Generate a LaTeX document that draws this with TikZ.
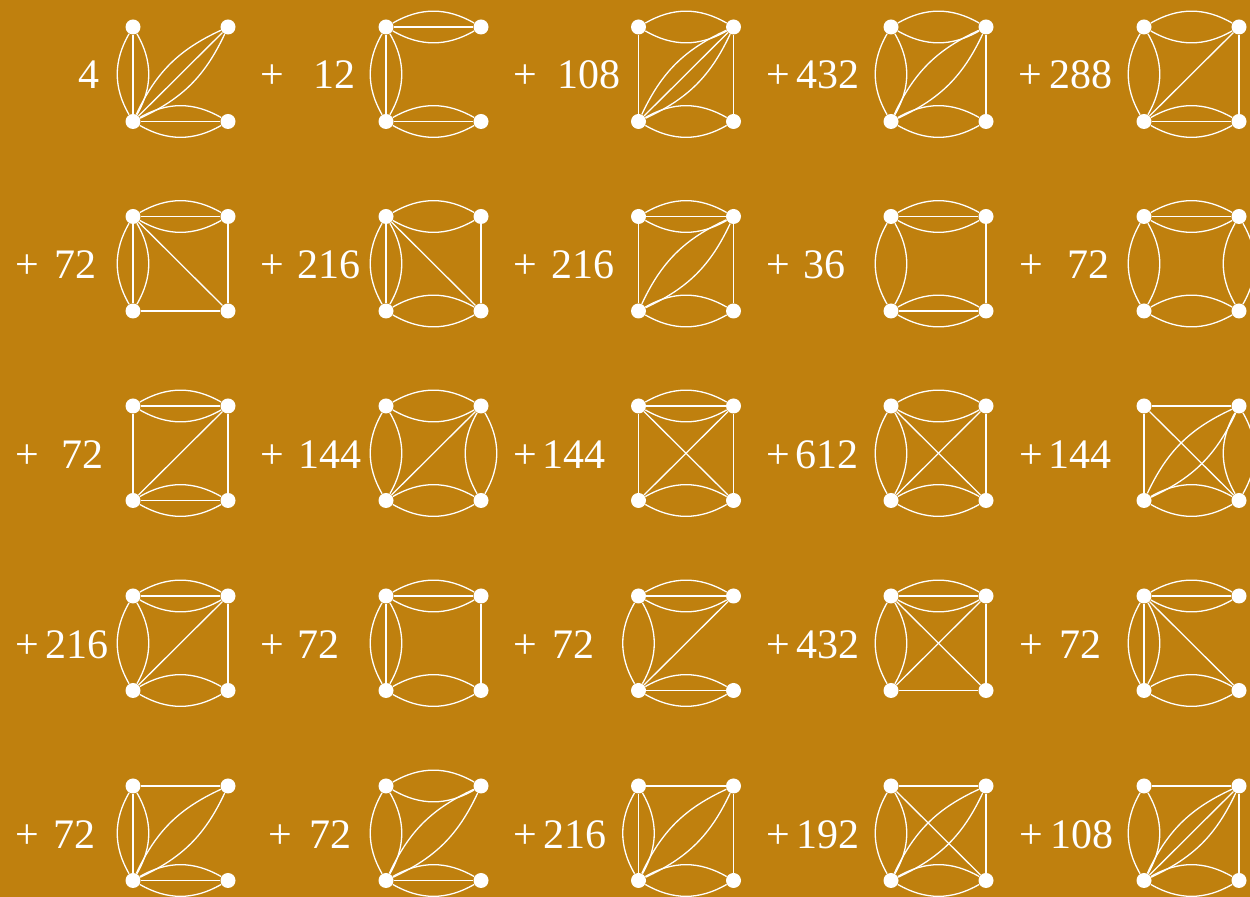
\documentclass[tikz,border=0pt]{standalone}
\usepackage{fontspec}
\setmainfont{Liberation Serif}
\definecolor{bgc}{RGB}{191,128,14}
\tikzset{
  dot/.style={circle, fill=white, draw=none, inner sep=0pt, minimum size=7.5pt},
  edge/.style={white, line width=0.65pt},
  lab/.style={text=white, font=\fontsize{21}{25}\selectfont, inner sep=0pt, anchor=base west},
}
\newcommand\sqg[3]{%
  \node[dot] (#1tl) at (#2,#3) {};
  \node[dot] (#1tr) at (#2+95,#3) {};
  \node[dot] (#1bl) at (#2,#3+94.5) {};
  \node[dot] (#1br) at (#2+95,#3+94.5) {};}
\newcommand\eS[3]{\draw[edge] (#1#2) -- (#1#3);}
\newcommand\eSD[3]{\draw[edge] (#1#2) to[bend left=30] (#1#3) (#1#2) to[bend right=30] (#1#3);}
\newcommand\eST[3]{\eSD{#1}{#2}{#3}\eS{#1}{#2}{#3}}
\newcommand\eDD[3]{\draw[edge] (#1#2) to[bend left=20] (#1#3) (#1#2) to[bend right=20] (#1#3);}
\newcommand\eDT[3]{\eDD{#1}{#2}{#3}\eS{#1}{#2}{#3}}
\begin{document}
\begin{tikzpicture}[x=0.5pt,y=-0.5pt]
\useasboundingbox (0,0) rectangle (1250,897);
\clip (0,0) rectangle (1250,897);
\fill[bgc] (0,0) rectangle (1250,897);
% ---- nodes ----
\sqg{g1}{133}{27}   \sqg{g2}{386}{27}   \sqg{g3}{638.5}{27}   \sqg{g4}{891}{27}   \sqg{g5}{1144}{27}
\sqg{g6}{133}{216.5} \sqg{g7}{386}{216.5} \sqg{g8}{638.5}{216.5} \sqg{g9}{891}{216.5} \sqg{g10}{1144}{216.5}
\sqg{g11}{133}{406} \sqg{g12}{386}{406} \sqg{g13}{638.5}{406} \sqg{g14}{891}{406} \sqg{g15}{1144}{406}
\sqg{g16}{133}{596} \sqg{g17}{386}{596} \sqg{g18}{638.5}{596} \sqg{g19}{891}{596} \sqg{g20}{1144}{596}
\sqg{g21}{133}{786} \sqg{g22}{386}{786} \sqg{g23}{638.5}{786} \sqg{g24}{891}{786} \sqg{g25}{1144}{786}
% ---- row 1 ----
\eST{g1}{tl}{bl} \eDT{g1}{bl}{tr} \eST{g1}{bl}{br}
\eST{g2}{tl}{tr} \eST{g2}{tl}{bl} \eST{g2}{bl}{br}
\eSD{g3}{tl}{tr} \eS{g3}{tl}{bl} \eDT{g3}{bl}{tr} \eS{g3}{tr}{br} \eSD{g3}{bl}{br}
\eSD{g4}{tl}{tr} \eSD{g4}{tl}{bl} \eDD{g4}{bl}{tr} \eS{g4}{tr}{br} \eSD{g4}{bl}{br}
\eSD{g5}{tl}{tr} \eSD{g5}{tl}{bl} \eS{g5}{bl}{tr} \eS{g5}{tr}{br} \eST{g5}{bl}{br}
% ---- row 2 ----
\eST{g6}{tl}{tr} \eST{g6}{tl}{bl} \eS{g6}{tl}{br} \eS{g6}{tr}{br} \eS{g6}{bl}{br}
\eSD{g7}{tl}{tr} \eST{g7}{tl}{bl} \eS{g7}{tl}{br} \eS{g7}{tr}{br} \eSD{g7}{bl}{br}
\eST{g8}{tl}{tr} \eS{g8}{tl}{bl} \eDD{g8}{bl}{tr} \eS{g8}{tr}{br} \eSD{g8}{bl}{br}
\eST{g9}{tl}{tr} \eSD{g9}{tl}{bl} \eS{g9}{tr}{br} \eST{g9}{bl}{br}
\eST{g10}{tl}{tr} \eSD{g10}{tl}{bl} \eSD{g10}{tr}{br} \eSD{g10}{bl}{br}
% ---- row 3 ----
\eST{g11}{tl}{tr} \eS{g11}{tl}{bl} \eS{g11}{bl}{tr} \eS{g11}{tr}{br} \eST{g11}{bl}{br}
\eSD{g12}{tl}{tr} \eSD{g12}{tl}{bl} \eS{g12}{bl}{tr} \eSD{g12}{tr}{br} \eSD{g12}{bl}{br}
\eST{g13}{tl}{tr} \eS{g13}{tl}{bl} \eS{g13}{tl}{br} \eS{g13}{bl}{tr} \eS{g13}{tr}{br} \eSD{g13}{bl}{br}
\eSD{g14}{tl}{tr} \eSD{g14}{tl}{bl} \eS{g14}{tl}{br} \eS{g14}{bl}{tr} \eS{g14}{tr}{br} \eSD{g14}{bl}{br}
\eS{g15}{tl}{tr} \eS{g15}{tl}{bl} \eS{g15}{tl}{br} \eDD{g15}{bl}{tr} \eSD{g15}{tr}{br} \eSD{g15}{bl}{br}
% ---- row 4 ----
\eST{g16}{tl}{tr} \eSD{g16}{tl}{bl} \eS{g16}{bl}{tr} \eS{g16}{tr}{br} \eSD{g16}{bl}{br}
\eST{g17}{tl}{tr} \eST{g17}{tl}{bl} \eS{g17}{tr}{br} \eSD{g17}{bl}{br}
\eST{g18}{tl}{tr} \eSD{g18}{tl}{bl} \eS{g18}{bl}{tr} \eST{g18}{bl}{br}
\eST{g19}{tl}{tr} \eSD{g19}{tl}{bl} \eS{g19}{tl}{br} \eS{g19}{bl}{tr} \eS{g19}{tr}{br} \eS{g19}{bl}{br}
\eST{g20}{tl}{tr} \eST{g20}{tl}{bl} \eS{g20}{tl}{br} \eSD{g20}{bl}{br}
% ---- row 5 ----
\eS{g21}{tl}{tr} \eST{g21}{tl}{bl} \eDD{g21}{bl}{tr} \eST{g21}{bl}{br}
\eSD{g22}{tl}{tr} \eSD{g22}{tl}{bl} \eDD{g22}{bl}{tr} \eST{g22}{bl}{br}
\eS{g23}{tl}{tr} \eST{g23}{tl}{bl} \eDD{g23}{bl}{tr} \eS{g23}{tr}{br} \eSD{g23}{bl}{br}
\eS{g24}{tl}{tr} \eSD{g24}{tl}{bl} \eS{g24}{tl}{br} \eDD{g24}{bl}{tr} \eS{g24}{tr}{br} \eSD{g24}{bl}{br}
\eS{g25}{tl}{tr} \eSD{g25}{tl}{bl} \eDT{g25}{bl}{tr} \eS{g25}{tr}{br} \eSD{g25}{bl}{br}
% ---- labels ----
\node[lab] (l1) at (78.5,89) {4};
\node[lab] (l2) at (259.7,89) {+\hspace{14.7pt}12};
\node[lab] (l3) at (512.7,89) {+\hspace{10.6pt}108};
\node[lab] (l4) at (765.7,89) {+\hspace{3.3pt}432};
\node[lab] (l5) at (1018.5,89) {+\hspace{3.5pt}288};
\node[lab] (l6) at (14.7,279) {+\hspace{8pt}72};
\node[lab] (l7) at (259.7,279) {+\hspace{6.9pt}216};
\node[lab] (l8) at (512.7,279) {+\hspace{7.5pt}216};
\node[lab] (l9) at (765.7,279) {+\hspace{7.1pt}36};
\node[lab] (l10) at (1019.4,279) {+\hspace{12.2pt}72};
\node[lab] (l11) at (14.7,468.5) {+\hspace{11.5pt}72};
\node[lab] (l12) at (259.7,468.5) {+\hspace{7.2pt}144};
\node[lab] (l13) at (512.7,468.5) {+\hspace{2.7pt}144};
\node[lab] (l14) at (765.7,468.5) {+\hspace{2.75pt}612};
\node[lab] (l15) at (1019.4,468.5) {+\hspace{2.75pt}144};
\node[lab] (l16) at (14.7,658.5) {+\hspace{3.3pt}216};
\node[lab] (l17) at (259.7,658.5) {+\hspace{7.1pt}72};
\node[lab] (l18) at (512.7,658.5) {+\hspace{7.7pt}72};
\node[lab] (l19) at (765.7,658.5) {+\hspace{3.3pt}432};
\node[lab] (l20) at (1019.4,658.5) {+\hspace{8pt}72};
\node[lab] (l21) at (14.7,848.5) {+\hspace{7.5pt}72};
\node[lab] (l22) at (268,848.5) {+\hspace{8.7pt}72};
\node[lab] (l23) at (512.7,848.5) {+\hspace{3.4pt}216};
\node[lab] (l24) at (765.7,848.5) {+\hspace{3.3pt}192};
\node[lab] (l25) at (1019.4,848.5) {+\hspace{3.6pt}108};
\end{tikzpicture}
\end{document}
